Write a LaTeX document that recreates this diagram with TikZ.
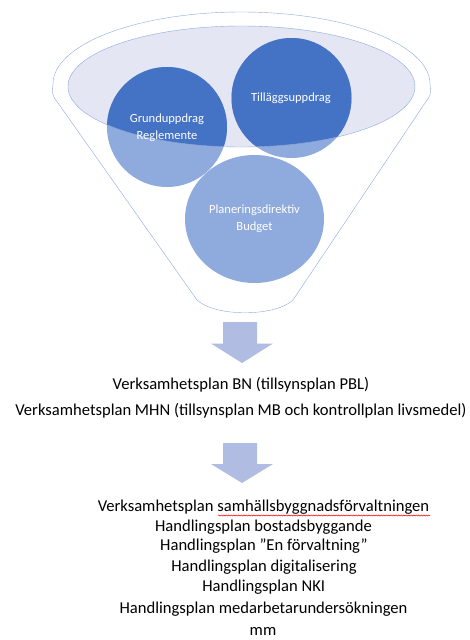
\documentclass[tikz,border=0pt]{standalone}
\usepackage{fontspec}
\setmainfont{Carlito}
\usetikzlibrary{decorations.pathmorphing}
\definecolor{rim}{HTML}{8FAADC}
\definecolor{bowl}{HTML}{E4E7F3}
\definecolor{darkball}{HTML}{4472C4}
\definecolor{lightball}{HTML}{8FAADC}
\definecolor{arrowfill}{HTML}{B0BCE1}
\begin{document}
\begin{tikzpicture}[x=1pt,y=-1pt,
  plan/.style={anchor=base, inner sep=0pt, font=\fontsize{16.6}{20}\selectfont},
  balltext/.style={text=white, align=center, font=\fontsize{12.5}{17.4}\selectfont},
  blockarrow/.style={fill=arrowfill}]
\useasboundingbox (0,0) rectangle (469,640);
\draw[rim, fill=white] (58,103) .. controls (52,95) .. (53,84) arc[start angle=180, end angle=360, x radius=188.5, y radius=72] .. controls (431,95) .. (425,103) -- (293,300) .. controls (275,317) and (215,317) .. (197,300) -- cycle;
\fill[bowl] (241.5,86.5) ellipse[x radius=173.5, y radius=60.5];
\fill[lightball] (167,127) circle[radius=60];
\fill[lightball] (291.5,98) circle[radius=60];
\fill[lightball] (254.5,219) ellipse[x radius=69.5, y radius=64];
\begin{scope}
\clip (241.5,86.5) ellipse[x radius=173.5, y radius=60.5];
\fill[darkball] (167,127) circle[radius=60];
\fill[darkball] (291.5,98) circle[radius=60];
\end{scope}
\draw[rim] (241.5,86.5) ellipse[x radius=173.5, y radius=60.5];
\node[balltext] (grund) at (167,128) {Grunduppdrag\\Reglemente};
\node[balltext] (tillagg) at (291,98) {Tilläggsuppdrag};
\node[balltext] (plandir) at (254.5,219) {Planeringsdirektiv\\Budget};

\fill[blockarrow] (223,322) -- (257,322) -- (257,343.5) -- (273,343.5) -- (242,363) -- (211,343.5) -- (223,343.5) -- cycle;
\node[plan] (bn) at (241,389) {Verksamhetsplan BN (tillsynsplan PBL)};
\node[plan] (mhn) at (241,415) {Verksamhetsplan MHN (tillsynsplan MB och kontrollplan livsmedel)};

\fill[blockarrow] (223,443) -- (257,443) -- (257,464) -- (273,464) -- (242,483) -- (211,464) -- (223,464) -- cycle;
\node[plan] (sbf) at (263.5,511) {Verksamhetsplan samhällsbyggnadsförvaltningen};
\draw[red, line width=0.5pt, decorate, decoration={snake, amplitude=0.6pt, segment length=2.5pt}] (218,515.5) -- (430,515.5);
\node[plan] (bost) at (263.5,531) {Handlingsplan bostadsbyggande};
\node[plan] (enf) at (264,550.5) {Handlingsplan ”En förvaltning”};
\node[plan] (dig) at (264,571) {Handlingsplan digitalisering};
\node[plan] (nki) at (263.7,591) {Handlingsplan NKI};
\node[plan] (medarb) at (263.5,613.5) {Handlingsplan medarbetarundersökningen};
\node[plan] (mm) at (263,635) {mm};
\end{tikzpicture}
\end{document}
